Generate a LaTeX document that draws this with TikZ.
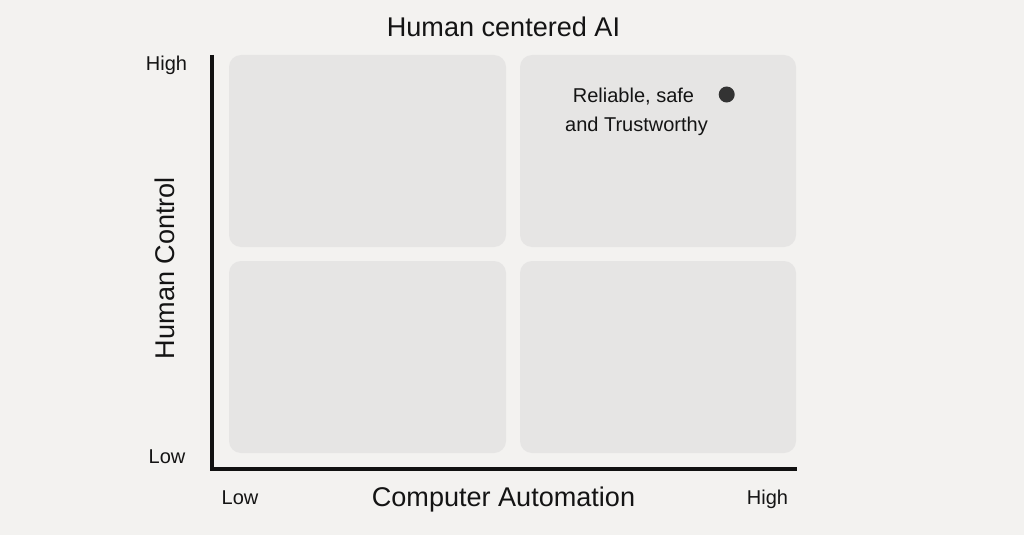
\documentclass[tikz,border=0pt]{standalone}
\usepackage{fontspec}
\setmainfont{Liberation Sans}
\definecolor{bgc}{RGB}{243,242,240}
\definecolor{quadc}{RGB}{230,229,228}
\definecolor{axisc}{RGB}{17,17,17}
\definecolor{dotc}{RGB}{51,51,51}
\definecolor{txtc}{RGB}{20,20,20}
\tikzset{
  quad/.style={fill=quadc, rounded corners=9pt},
  axisline/.style={draw=axisc, line width=2.3pt},
  bigtxt/.style={font=\fontsize{20.3}{24}\selectfont, text=txtc, inner sep=0pt, anchor=base},
  smalltxt/.style={font=\fontsize{15}{18}\selectfont, text=txtc, inner sep=0pt, anchor=base},
}
\begin{document}
\begin{tikzpicture}[x=0.75pt, y=-0.75pt]
\fill[bgc] (0,0) rectangle (1024,535);
\useasboundingbox (0,0) rectangle (1024,535);
% quadrants
\fill[quad] (229,55) rectangle (506,247);
\fill[quad] (520,55) rectangle (796,247);
\fill[quad] (229,261) rectangle (506,453);
\fill[quad] (520,261) rectangle (796,453);
% axes
\coordinate (ytop) at (212,55);
\coordinate (origin) at (212,469);
\coordinate (xend) at (797,469);
\draw[axisline, line join=miter] (ytop) -- (origin) -- (xend);
% texts
\node[bigtxt] (title) at (503.5,37) {Human centered AI};
\node[bigtxt, rotate=90] (ylab) at (174,268) {Human Control};
\node[bigtxt] (xlab) at (503.5,506) {Computer Automation};
\node[smalltxt] (yhigh) at (166.5,71) {High};
\node[smalltxt] (ylow) at (167,463) {Low};
\node[smalltxt] (xlow) at (240,504) {Low};
\node[smalltxt] (xhigh) at (767.5,504) {High};
\node[smalltxt] (rel1) at (633.5,103) {Reliable, safe};
\node[smalltxt] (rel2) at (636.5,131.5) {and Trustworthy};
\fill[dotc] (726.7,94.5) circle (6pt);
\end{tikzpicture}
\end{document}
